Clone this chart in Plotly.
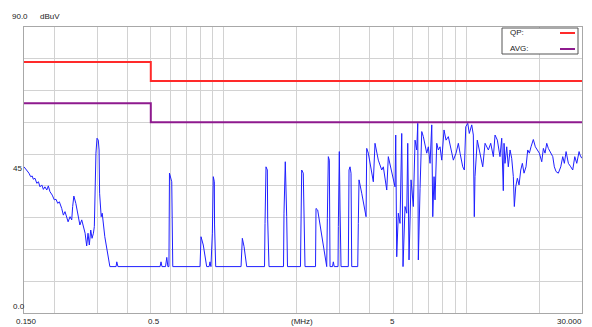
import math
import plotly.graph_objects as go

# ---- data ----
limit_freq = [0.15, 0.5, 0.5, 30.0]
qp_limit = [79, 79, 73, 73]
avg_limit = [66, 66, 60, 60]

trace_freq = [
    0.150, 0.1529, 0.1547, 0.1572, 0.1598, 0.1622, 0.1638, 0.1665, 0.1694, 0.1720,
    0.1746, 0.1776, 0.1803, 0.1830, 0.1862, 0.1890, 0.1919, 0.1961, 0.2000, 0.2033,
    0.2066, 0.2098, 0.2146, 0.2180, 0.2214, 0.2250, 0.2280, 0.2322, 0.2360, 0.2381,
    0.2408, 0.2454, 0.2509, 0.2550, 0.2595, 0.2638, 0.2680, 0.2720, 0.2755, 0.2789,
    0.2827, 0.2862, 0.2900, 0.2925, 0.2945, 0.2970, 0.3000, 0.3037, 0.3060, 0.3075,
    0.3122, 0.3152, 0.3231, 0.3390, 0.3596, 0.3620, 0.3660,
    0.546, 0.551, 0.556, 0.575, 0.582, 0.588, 0.594, 0.597, 0.604, 0.610, 0.616,
    0.798, 0.8055, 0.823, 0.850, 0.870, 0.877, 0.885, 0.897, 0.905, 0.914, 0.916, 0.926,
    1.178, 1.1925, 1.212, 1.243, 1.472, 1.479, 1.493, 1.512, 1.517, 1.536,
    1.763, 1.771, 1.793, 1.817, 1.831, 2.071, 2.081, 2.095, 2.127, 2.142, 2.162,
    2.389, 2.400, 2.439, 2.573, 2.657, 2.673, 2.698, 2.724, 2.742, 2.808, 2.829, 2.853,
    2.958, 2.967, 2.995, 3.016, 3.044, 3.262, 3.284, 3.315, 3.347, 3.369,
    3.567, 3.587, 3.611, 3.705, 3.860, 3.885, 3.945, 4.136, 4.203, 4.337,
    4.480, 4.549, 4.698, 4.769, 4.926, 5.082, 5.117, 5.165, 5.244, 5.330,
    5.417, 5.484, 5.589, 5.681, 5.735, 5.805, 5.918, 6.048, 6.147, 6.246,
    6.306, 6.342, 6.446, 6.507, 6.551, 6.651, 6.759, 6.869, 6.974, 7.088,
    7.203, 7.272, 7.362, 7.431, 7.553, 7.668, 7.793, 7.920, 8.094, 8.250,
    8.432, 8.627, 8.843, 9.072, 9.273, 9.425, 9.668, 9.816, 9.948, 10.14,
    10.29, 10.53, 10.69, 10.79, 10.86, 11.10, 11.39, 11.69, 11.95, 12.33,
    12.61, 12.93, 13.14, 13.43, 13.77, 14.00, 14.21, 14.31, 14.44, 14.68,
    14.90, 15.15, 15.39, 15.63, 15.78, 15.99, 16.24, 16.50, 16.77, 17.03,
    17.30, 17.63, 17.92, 18.20, 18.49, 18.90, 19.26, 19.63, 20.01, 20.47,
    20.79, 21.12, 21.46, 21.79, 22.15, 22.73, 23.07, 23.45, 23.96, 24.52,
    24.99, 25.37, 25.79, 26.36, 26.96, 27.47, 28.01, 28.55, 29.18, 29.45, 29.93,
]
trace_level = [
    46.0, 45.2, 44.5, 44.0, 42.9, 43.1, 42.1, 42.4, 40.8, 41.3,
    39.7, 40.3, 38.9, 39.7, 38.7, 40.0, 38.2, 37.1, 35.6, 35.8,
    34.5, 35.0, 32.9, 30.8, 31.9, 29.8, 28.7, 30.3, 29.3, 33.5,
    36.8, 34.5, 30.3, 27.7, 29.3, 27.2, 25.1, 21.1, 25.1, 21.4,
    26.1, 23.5, 25.1, 27.2, 46.0, 50.3, 55.0, 54.4, 51.3, 37.7,
    30.3, 31.4, 24.0, 14.6, 14.6, 16.1, 14.6,
    14.6, 16.1, 14.6, 14.6, 17.5, 14.6, 14.6, 44.0, 42.9, 41.3, 14.6,
    14.6, 24.0, 21.4, 14.6, 14.6, 16.1, 14.6, 25.1, 42.9, 41.3, 27.7, 14.6,
    14.6, 23.5, 20.9, 14.6, 14.6, 28.2, 46.0, 45.0, 29.3, 14.6,
    14.6, 31.4, 47.6, 30.3, 14.6, 14.6, 30.3, 45.0, 44.0, 29.3, 14.6,
    14.6, 32.9, 32.4, 20.9, 14.6, 29.8, 49.2, 48.1, 14.6, 14.6, 16.1, 14.6,
    14.6, 27.2, 50.8, 32.4, 14.6, 14.6, 45.0, 46.0, 44.0, 14.6,
    14.6, 28.2, 41.9, 37.7, 30.3, 51.8, 50.3, 41.3, 53.4, 48.1,
    45.0, 46.0, 38.7, 49.2, 44.0, 39.7, 56.0, 17.7, 31.4, 28.2,
    56.5, 14.6, 33.5, 31.4, 53.4, 16.7, 41.9, 33.5, 54.4, 51.3,
    59.7, 16.7, 39.2, 53.4, 57.1, 55.5, 52.3, 50.3, 52.3, 47.1,
    59.2, 30.3, 42.9, 35.6, 53.4, 51.3, 52.3, 48.1, 57.6, 54.4,
    55.5, 52.3, 48.1, 50.3, 53.4, 50.3, 46.0, 45.0, 58.6, 59.7,
    56.5, 59.2, 56.0, 30.3, 42.9, 54.4, 50.3, 46.0, 53.4, 51.3,
    53.4, 49.2, 56.0, 54.4, 49.2, 55.0, 38.5, 53.4, 47.1, 52.3,
    46.0, 51.3, 48.7, 42.9, 33.5, 39.7, 42.4, 40.3, 45.0, 47.1,
    44.0, 46.0, 51.3, 50.3, 52.3, 54.6, 52.3, 51.3, 50.3, 47.6,
    51.8, 50.3, 53.4, 51.8, 50.8, 49.2, 46.0, 44.5, 44.0, 46.0,
    49.2, 47.1, 50.8, 47.1, 46.0, 45.0, 49.2, 47.1, 50.8, 49.7, 48.7,
]

grid_freqs = [0.2, 0.3, 0.4, 0.5, 0.6, 0.7, 0.8, 0.9, 1, 2, 3, 4, 5, 6, 7, 8, 9, 10, 20]
x_tick_labels = ["0.150", "0.5", "(MHz)", "5", "30.000"]
y_tick_labels = ["90.0", "45", "0.0"]
legend_names = ["QP:", "AVG:"]

QP_COLOR = "#ff2a2a"
AVG_COLOR = "#8e1a8e"
TRACE_COLOR = "#1f1fff"
FONT = "Liberation Sans"

# the page body has an 8px margin; lay out in window pixels and shift by it
OFF = 8
WIN_W, WIN_H = 592, 327
PL, PR, PT, PB = 24, 582, 27, 313          # plot area in window pixels
W, H = WIN_W - OFF, WIN_H - OFF
L, T = PL - OFF, PT - OFF
R, B = WIN_W - PR, WIN_H - PB
pw, ph = PR - PL, PB - PT

def px(xp):
    return (xp - PL) / pw

def py(yp):
    return (PB - yp) / ph

fig = go.Figure()
fig.add_trace(go.Scatter(x=trace_freq, y=trace_level, mode="lines",
                         line=dict(color=TRACE_COLOR, width=1), showlegend=False))
fig.add_trace(go.Scatter(x=limit_freq, y=avg_limit, mode="lines",
                         line=dict(color=AVG_COLOR, width=2), showlegend=False))
fig.add_trace(go.Scatter(x=limit_freq, y=qp_limit, mode="lines",
                         line=dict(color=QP_COLOR, width=2), showlegend=False))

fig.update_layout(
    width=W, height=H,
    margin=dict(l=L, r=R, t=T, b=B, pad=0),
    paper_bgcolor="white", plot_bgcolor="white",
    font=dict(family=FONT, size=8, color="#222222"),
    xaxis=dict(type="log", range=[math.log10(0.15), math.log10(30)],
               tickvals=grid_freqs, showticklabels=False, ticks="",
               showgrid=True, gridcolor="#d2d2d2", gridwidth=1,
               showline=True, linecolor="#a8a8a8", linewidth=1, mirror=True,
               zeroline=False),
    yaxis=dict(range=[0, 90], dtick=10, showticklabels=False, ticks="",
               showgrid=True, gridcolor="#d2d2d2", gridwidth=1,
               showline=True, linecolor="#a8a8a8", linewidth=1, mirror=True,
               zeroline=False),
)

ann = []
x_label_pos = [(26, "center"), (154, "center"), (302, "center"), (392, "center"), (584, "right")]
for (xp, anchor), txt in zip(x_label_pos, x_tick_labels):
    ann.append(dict(x=px(xp), y=py(321), xref="paper", yref="paper", text=txt,
                    showarrow=False, xanchor=anchor, yanchor="middle"))
y_label_pos = [(10, 17), (11, 168), (11, 306)]
for (xp, yp), txt in zip(y_label_pos, y_tick_labels):
    ann.append(dict(x=px(xp), y=py(yp), xref="paper", yref="paper", text=txt,
                    showarrow=False, xanchor="left", yanchor="middle"))
ann.append(dict(x=px(38), y=py(17), xref="paper", yref="paper", text="dBuV",
                showarrow=False, xanchor="left", yanchor="middle"))
for yp, txt in zip([33, 48], legend_names):
    ann.append(dict(x=px(508), y=py(yp), xref="paper", yref="paper", text=txt,
                    showarrow=False, xanchor="left", yanchor="middle"))
fig.update_layout(annotations=ann)

shapes = [
    dict(type="rect", xref="paper", yref="paper", x0=px(502), x1=px(578),
         y0=py(54), y1=py(28), line=dict(color="#555555", width=1), fillcolor="white"),
    dict(type="line", xref="paper", yref="paper", x0=px(560), x1=px(575),
         y0=py(33), y1=py(33), line=dict(color=QP_COLOR, width=2)),
    dict(type="line", xref="paper", yref="paper", x0=px(560), x1=px(575),
         y0=py(49), y1=py(49), line=dict(color=AVG_COLOR, width=2)),
]
fig.update_layout(shapes=shapes)

fig.write_html("out.html")
